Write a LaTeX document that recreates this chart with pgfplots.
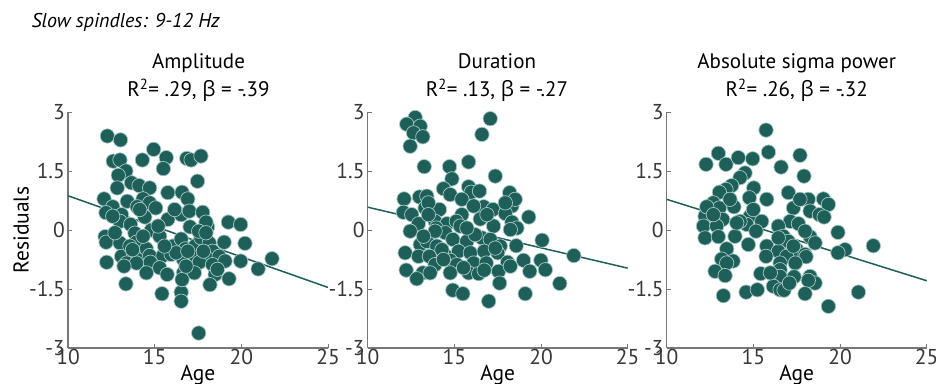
\documentclass[border=0pt]{standalone}
\usepackage{pgfplots}
\pgfplotsset{compat=1.18}
\usepackage{fontspec}
\setmainfont{PT Sans}
\newfontfamily\gr{Open Sans}
\definecolor{dot}{RGB}{30,95,90}
\definecolor{dotedge}{RGB}{165,200,195}
\definecolor{axgray}{RGB}{120,120,120}
\pgfplotsset{
 resid/.style={
  scale only axis, width=260pt, height=236pt,
  xmin=10, xmax=25, ymin=-3, ymax=3,
  xtick={10,15,20,25}, xticklabels={10,15,20,25},
  ytick={-3,-1.5,0,1.5,3}, yticklabels={-3,-1.5,0,1.5,3},
  axis x line*=bottom, axis y line*=left,
  axis line style={axgray, line width=1.1pt},
  tick style={axgray, line width=1pt},
  tick align=inside, major tick length=4pt,
  ticklabel style={font=\fontsize{21.5}{24}\selectfont, text=black!78},
  yticklabel style={inner sep=1pt, xshift=-2pt},
  xticklabel style={inner sep=1pt},
  xlabel={Age},
  xlabel style={font=\fontsize{21.5}{24}\selectfont, at={(axis description cs:0.5,0)}, anchor=base, yshift=-32pt},
  clip=false, anchor=south west,
 },
 pts/.style={only marks, mark=*, mark size=7.2pt, mark options={fill=dot, draw=dotedge, line width=0.7pt}},
 reg/.style={dot, line width=1.5pt, no marks},
}
\begin{document}
\begin{tikzpicture}
\useasboundingbox (0,0) rectangle (936pt,383pt);
\node[anchor=base west, font=\fontsize{20}{23}\selectfont\itshape] at (28pt,355pt) {Slow spindles: 9-12 Hz};
\node[anchor=base, font=\fontsize{21}{24}\selectfont] at (198.5pt,314pt) {Amplitude};
\node[anchor=base, font=\fontsize{21}{24}\selectfont] at (198.5pt,286pt) {R\textsuperscript{2}= .29, {\gr β} = -.39};
\node[anchor=base, font=\fontsize{21}{24}\selectfont] at (497pt,314pt) {Duration};
\node[anchor=base, font=\fontsize{21}{24}\selectfont] at (497pt,286pt) {R\textsuperscript{2}= .13, {\gr β} = -.27};
\node[anchor=base, font=\fontsize{21}{24}\selectfont] at (796.7pt,314pt) {Absolute sigma power};
\node[anchor=base, font=\fontsize{21}{24}\selectfont] at (796.7pt,286pt) {R\textsuperscript{2}= .26, {\gr β} = -.32};

\begin{axis}[resid, at={(68pt,35pt)}, ylabel={Residuals},
  ylabel style={font=\fontsize{21.5}{24}\selectfont, at={(axis description cs:-0.18,0.5)}, anchor=center}]
\addplot[reg] coordinates {(10,0.87) (25,-1.46)};
\addplot[pts] coordinates {
(12.27,2.39) (13.03,2.29) (12.61,1.75) (13.0,1.78) (14.29,1.78) (14.94,2.05) (15.67,1.84) (15.5,1.56)
(16.85,1.82) (17.1,1.78) (17.67,1.88) (13.34,1.5) (12.9,1.39) (13.66,1.2) (14.1,1.13) (12.84,1.07)
(14.71,1.07) (15.76,0.95) (16.58,0.96) (17.47,1.24) (12.08,0.79) (13.42,0.73) (14.33,0.79) (14.71,0.69)
(15.06,0.56) (16.91,0.79) (12.58,0.59) (12.19,0.44) (13.09,0.39) (13.99,0.59) (14.43,0.33) (15.76,0.27)
(16.53,0.39) (17.0,0.48) (17.77,0.45) (13.0,0.22) (13.61,0.14) (14.81,0.0) (17.04,0.08) (18.05,0.08)
(19.25,0.2) (19.96,0.14) (12.14,-0.17) (12.2,-0.31) (13.0,-0.33) (13.86,-0.08) (13.95,-0.31) (14.52,-0.48)
(15.29,-0.16) (16.05,-0.41) (16.53,-0.23) (16.77,-0.48) (17.35,-0.4) (17.67,-0.2) (18.15,-0.33) (18.34,-0.54)
(19.01,-0.31) (20.21,-0.34) (13.09,-0.67) (13.76,-0.58) (13.99,-0.75) (14.71,-0.65) (15.48,-0.65) (15.95,-0.62)
(16.66,-0.75) (17.39,-0.71) (18.11,-0.75) (18.72,-0.67) (12.23,-0.82) (13.38,-0.84) (13.95,-0.84) (14.75,-0.82)
(15.29,-0.96) (17.58,-0.82) (18.34,-0.88) (19.06,-0.79) (19.96,-0.79) (13.23,-0.92) (14.52,-1.09) (15.72,-1.13)
(16.66,-1.09) (17.29,-1.09) (18.49,-1.13) (19.29,-1.24) (20.97,-0.99) (21.77,-0.73) (13.34,-1.37) (18.19,-1.39)
(15.42,-1.62) (16.53,-1.58) (16.53,-1.81) (17.54,-2.62) (16.58,-1.26) (16.24,-0.58) (17.96,0.2) (17.54,-0.03)
(17.96,-0.07) (16.15,0.52) (13.57,-0.41) (12.58,0.35) (15.2,0.1) (14.33,-0.16) (15.57,-0.41) (16.91,-0.54)
(14.14,0.52) (13.72,-0.5) (12.71,-0.07) (17.81,-0.54) (18.62,-1.0) (16.81,-0.92)
};
\end{axis}

\begin{axis}[resid, at={(367.7pt,35pt)}]
\addplot[reg] coordinates {(10,0.58) (25,-0.97)};
\addplot[pts] coordinates {
(12.74,2.86) (12.25,2.69) (13.03,2.64) (12.64,2.47) (13.18,2.37) (12.45,2.13) (17.07,2.83) (16.59,2.43)
(13.26,1.61) (14.72,1.61) (14.86,1.3) (15.82,1.73) (17.36,1.37) (15.82,1.1) (14.37,1.05) (14.76,0.9)
(15.97,0.96) (16.45,0.99) (18.19,0.95) (12.1,0.79) (12.99,0.84) (13.41,0.86) (15.43,0.78) (16.69,0.59)
(17.23,0.52) (18.32,0.61) (18.51,0.78) (12.06,0.45) (12.54,0.39) (13.31,0.56) (14.14,0.52) (15.43,0.39)
(17.94,0.42) (19.29,0.33) (12.93,0.16) (13.89,0.22) (14.57,0.16) (15.11,0.22) (16.49,0.28) (17.26,0.1)
(18.32,0.2) (18.61,0.05) (13.95,0.05) (15.34,0.1) (14.47,-0.07) (18.23,0.01) (13.03,-0.37) (13.41,-0.29)
(13.99,-0.41) (14.91,-0.24) (15.72,-0.29) (16.59,-0.2) (17.07,-0.24) (17.65,-0.41) (18.57,-0.4) (20.06,-0.26)
(12.16,-0.58) (12.93,-0.67) (13.56,-0.67) (14.53,-0.67) (15.24,-0.54) (15.92,-0.58) (16.72,-0.54) (17.5,-0.58)
(21.89,-0.65) (14.76,-0.77) (16.11,-0.84) (16.84,-0.84) (18.07,-0.82) (18.99,-0.77) (19.99,-0.77) (13.89,-0.88)
(15.14,-0.88) (12.22,-1.02) (13.18,-1.09) (14.76,-1.09) (15.82,-1.09) (16.4,-1.11) (16.72,-1.02) (17.55,-1.05)
(18.23,-0.92) (19.35,-1.05) (20.25,-1.01) (12.83,-1.24) (17.61,-1.35) (21.08,-1.36) (14.91,-1.53) (15.49,-1.62)
(19.09,-1.62) (16.98,-1.81) (13.6,-1.09) (14.28,-0.5) (12.45,-0.03) (13.5,0.69) (17.94,0.69) (16.2,-0.12)
(15.72,0.05) (16.88,0.39) (13.89,-0.03) (17.36,-0.46) (15.53,-0.96) (13.5,0.39) (14.37,-0.75) (13.22,-0.16)
(16.11,0.61)
};
\end{axis}

\begin{axis}[resid, at={(666.7pt,35pt)}]
\addplot[reg] coordinates {(10,0.78) (25,-1.29)};
\addplot[pts] coordinates {
(15.73,2.54) (15.87,1.98) (12.98,1.95) (12.27,1.67) (13.42,1.67) (14.13,1.84) (14.96,1.81) (17.69,1.9)
(16.6,1.6) (17.92,1.37) (14.52,1.45) (14.23,1.33) (13.75,1.13) (13.42,1.03) (15.02,1.07) (13.04,0.96)
(17.02,0.95) (14.77,0.82) (15.77,0.78) (18.17,0.78) (19.04,0.79) (19.33,0.65) (12.69,0.69) (13.04,0.56)
(13.88,0.59) (17.31,0.56) (18.27,0.48) (18.81,0.39) (19.08,0.33) (12.21,0.35) (13.23,0.27) (14.81,0.35)
(15.48,0.22) (17.12,0.22) (17.6,0.16) (12.12,0.1) (12.88,0.1) (14.62,0.14) (16.44,0.1) (15.15,-0.03)
(19.88,-0.06) (12.21,-0.2) (12.98,-0.17) (13.94,-0.16) (16.73,-0.16) (17.02,-0.29) (18.27,-0.17) (18.56,-0.33)
(14.71,-0.37) (15.77,-0.41) (21.92,-0.4) (13.46,-0.48) (16.44,-0.54) (17.5,-0.5) (17.98,-0.62) (20.29,-0.5)
(19.88,-0.58) (15.73,-0.67) (16.92,-0.67) (18.04,-0.68) (13.17,-0.74) (13.83,-0.79) (17.42,-0.84) (16.54,-0.84)
(13.46,-0.84) (16.54,-1.01) (12.79,-1.05) (13.37,-1.16) (15.42,-1.11) (16.54,-1.18) (17.35,-1.19) (18.27,-1.18)
(18.56,-1.35) (18.17,-1.28) (13.27,-1.67) (14.58,-1.58) (15.23,-1.52) (16.15,-1.43) (16.54,-1.52) (16.77,-1.53)
(17.98,-1.62) (21.06,-1.58) (19.33,-1.94) (17.08,-1.35) (15.98,-1.09) (14.23,0.22) (13.65,0.78) (12.31,0.59)
(17.31,-0.41) (15.0,0.52) (17.98,-0.03) (14.04,0.18) (16.44,-0.2) (12.69,0.39) (17.69,0.78)
};
\end{axis}
\end{tikzpicture}
\end{document}
